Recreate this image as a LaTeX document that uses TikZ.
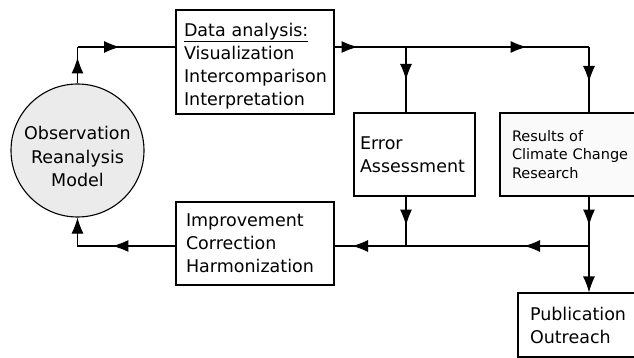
\documentclass[tikz,border=0pt]{standalone}
\usepackage{fontspec}
\setmainfont{DejaVu Sans}
\usetikzlibrary{arrows.meta,decorations.markings}
\definecolor{circfill}{RGB}{235,235,235}
\definecolor{resfill}{RGB}{250,250,250}
\tikzset{
  box/.style={draw=black, line width=1.1pt, rectangle, align=left, inner ysep=0pt,
    font=\fontsize{17.5}{23}\selectfont},
  conn/.style={draw=black, line width=1.1pt},
  tipstyle/.style={-{Latex[length=16pt,width=12pt]}},
  arrat/.style={postaction={decorate,decoration={markings,
     mark=at position #1 with {\arrow{Latex[length=16pt,width=12pt]}}}}}
}
\begin{document}
\begin{tikzpicture}[x=1pt,y=-1pt]
\path[use as bounding box] (0,0) rectangle (634,358);
\clip (0,0) rectangle (634,358);

\node[circle, draw=black, line width=1.1pt, fill=circfill, minimum size=133pt, inner sep=0pt,
  align=center, font=\fontsize{17.5}{23.5}\selectfont] (obs) at (77.5,150.5)
  {\rule{0pt}{25.5pt}Observation\\Reanalysis\\Model};

\node[box, text width=142pt, inner xsep=8pt, minimum height=104pt] (data) at (255,62)
  {\rule{0pt}{21pt}\underline{Data analysis:}\\Visualization\\Intercomparison\\Interpretation};

\node[box, text width=109pt, inner xsep=6pt, minimum height=83pt] (err) at (414.5,154.5)
  {Error\\Assessment};

\node[box, fill=resfill, text width=126pt, inner xsep=12pt, minimum height=83pt,
  font=\fontsize{14.5}{18.5}\selectfont] (res) at (575,154.5)
  {Results of\\Climate Change\\Research};

\node[box, text width=138pt, inner xsep=10pt, minimum height=83pt] (imp) at (255,243.5)
  {Improvement\\Correction\\Harmonization};

\node[box, text width=108pt, inner xsep=12pt, minimum height=64pt] (pub) at (584,325)
  {Publication\\Outreach};

\coordinate (tl) at (77.5,47);
\coordinate (ea) at (406,47);
\coordinate (tr) at (589,47);
\coordinate (eb) at (406,246);
\coordinate (br) at (589,246);
\coordinate (bl) at (77.5,246);

\draw[conn, arrat=26pt] (obs.north) -- (tl);
\draw[conn, arrat=42.5pt] (tl) -- (data.west |- tl);
\draw[conn, arrat=23pt, arrat=192pt] (data.east |- tl) -- (tr);
\draw[conn, arrat=33pt] (ea) -- (ea |- err.north);
\draw[conn, arrat=35pt] (tr) -- (tr |- res.north);
\draw[conn, arrat=29pt] (ea |- err.south) -- (eb);
\draw[conn, tipstyle, arrat=29pt] (tr |- res.south) -- (br) -- (br |- pub.north);
\draw[conn, arrat=65pt, arrat=237pt] (br) -- (imp.east |- br);
\draw[conn, tipstyle, arrat=63pt] (imp.west |- br) -- (bl) -- (obs.south);
\end{tikzpicture}
\end{document}
